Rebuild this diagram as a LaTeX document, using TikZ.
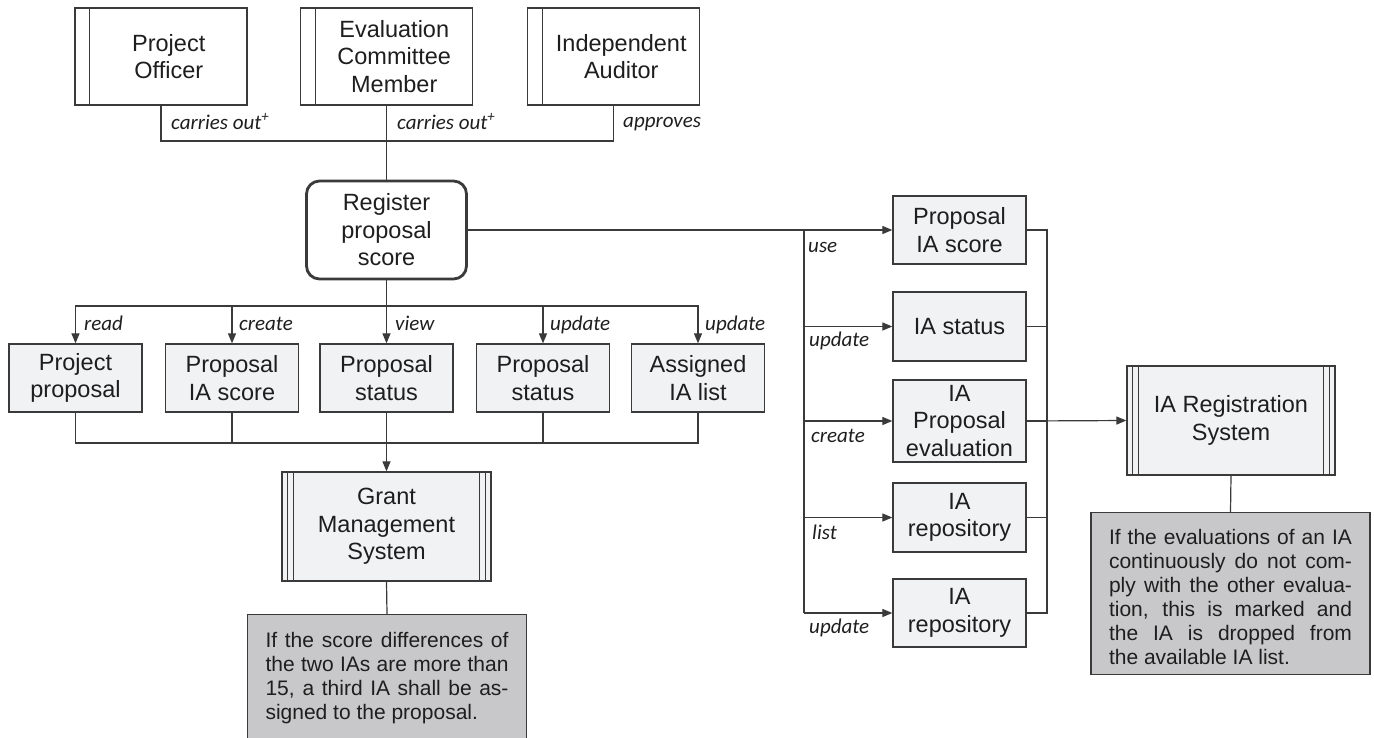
\documentclass[tikz,border=0pt]{standalone}
\usepackage{fontspec}
\setmainfont{Liberation Sans}
\newfontfamily\labfont{Carlito}
\usetikzlibrary{arrows.meta}
\definecolor{boxfill}{RGB}{241,242,244}
\definecolor{notefill}{RGB}{200,200,202}
\definecolor{ln}{RGB}{58,58,58}
\definecolor{txt}{RGB}{30,30,30}
\begin{document}
\begin{tikzpicture}[x=1pt,y=-1pt,
  every node/.style={text=txt},
  base/.style={draw=ln, line width=1.3pt, fill=boxfill, inner sep=0pt, font=\fontsize{23.5}{27.5}\selectfont},
  actor/.style={base, fill=white, minimum width=172, minimum height=97},
  store/.style={base, align=center, minimum width=133, minimum height=68},
  proc/.style={base, align=center, fill=white, rounded corners=13, line width=2.8pt, minimum width=160, minimum height=98},
  system/.style={base, align=center, minimum width=209, minimum height=109},
  note/.style={draw=ln, line width=1.3pt, fill=notefill, inner xsep=18pt, inner ysep=0pt, font=\fontsize{21}{24}\selectfont},
  lab/.style={font=\labfont\itshape\fontsize{21}{24}\selectfont, inner sep=0pt, anchor=base west},
  conn/.style={draw=ln, line width=1.2pt},
  barline/.style={draw=ln, line width=1.1pt},
  arr/.style={conn, -{Triangle[length=10pt,width=8pt]}},
]
\clip (0,0) rectangle (1374,737);
\useasboundingbox (0,0) rectangle (1374,737);

% actors
\node[actor] (po) at (161,56.5) {\hspace*{15.5pt}\parbox{140pt}{\centering Project\\Officer}};
\node[actor] (ecm) at (386.5,56.5) {\hspace*{15.5pt}\parbox{140pt}{\centering Evaluation\\Committee\\Member}};
\node[actor] (aud) at (613.5,56.5) {\hspace*{15.5pt}\parbox{140pt}{\centering Independent\\Auditor}};
\foreach \n in {po,ecm,aud}
  \draw[barline] ([xshift=15.5pt]\n.north west) -- ([xshift=15.5pt]\n.south west);

% process
\node[proc] (reg) at (386.5,230) {Register\\proposal\\score};

% left data
\node[store] (pp) at (75.5,378) {Project\\proposal};
\node[store] (pis2) at (232,378) {Proposal\\IA score};
\node[store] (ps1) at (386.5,378) {Proposal\\status};
\node[store] (ps2) at (543,378) {Proposal\\status};
\node[store] (ail) at (698,378) {Assigned\\IA list};

% systems
\node[system] (gms) at (386.5,526.5) {Grant\\Management\\System};
\node[system, minimum width=208] (iars) at (1231,420.5) {IA Registration\\System};
\foreach \n in {gms,iars}
  \foreach \d in {6,12} {
    \draw[barline] ([xshift=\d pt]\n.north west) -- ([xshift=\d pt]\n.south west);
    \draw[barline] ([xshift=-\d pt]\n.north east) -- ([xshift=-\d pt]\n.south east);
  }

% right data
\node[store] (pis) at (959.5,230) {Proposal\\IA score};
\node[store, minimum height=69] (ias) at (959.5,326.5) {IA status};
\node[store, minimum height=82] (iape) at (959.5,421) {IA\\Proposal\\evaluation};
\node[store, minimum height=69] (iar1) at (959.5,517.5) {IA\\repository};
\node[store] (iar2) at (959.5,613) {IA\\repository};

% notes
\node[note, anchor=north] (note1) at (387,614) {\parbox[c][150pt][t]{243pt}{\vspace*{17.5pt}%
\makebox[243pt][s]{If the score differences of}\\
\makebox[243pt][s]{the two IAs are more than}\\
\makebox[243pt][s]{15, a third IA shall be as-}\\
signed to the proposal.}};
\node[note, anchor=north] (note2) at (1230.5,512) {\parbox[c][162pt][t]{243pt}{\vspace*{16.5pt}%
\makebox[243pt][s]{If the evaluations of an IA}\\
\makebox[243pt][s]{continuously do not com-}\\
\makebox[243pt][s]{ply with the other evalua-}\\
\makebox[243pt][s]{tion, this is marked and}\\
\makebox[243pt][s]{the IA is dropped from}\\
the available IA list.}};

% connectors top
\coordinate (tb) at (386.5,141);
\draw[conn] (po.south) |- (tb) -| (aud.south);
\draw[conn] (ecm.south) -- (reg.north);

% connectors left
\coordinate (lb) at (386.5,306);
\draw[conn] (reg.south) -- (lb);
\foreach \n in {pp,pis2,ps1,ps2,ail}
  \draw[arr] (lb) -| (\n.north);
\coordinate (bb) at (386.5,443);
\foreach \n in {pp,pis2,ps2,ail}
  \draw[conn] (\n.south) |- (bb);
\draw[arr] (ps1.south) -- (gms.north);
\draw[conn] (gms.south) -- (note1.north);

% connectors right
\draw[arr] (reg.east) -- (pis.west);
\coordinate (rbt) at (804,230);
\coordinate (rbb) at (804,613);
\draw[conn] (rbt) -- (rbb);
\foreach \n in {ias,iape,iar1,iar2}
  \draw[arr] (rbt |- \n.west) -- (\n.west);
\coordinate (rrt) at (1047,230);
\coordinate (rrb) at (1047,613);
\draw[conn] (pis.east) -- (rrt) -- (rrb) -- (iar2.east);
\foreach \n in {ias,iape,iar1}
  \draw[conn] (\n.east) -- (\n.east -| rrt);
\draw[arr] (iape.east) -- (iars.west);
\draw[conn] (iars.south) -- (note2.north);

% labels
\node[lab] (lco1) at (171,129) {carries out\textsuperscript{+}};
\node[lab] (lco2) at (397,129) {carries out\textsuperscript{+}};
\node[lab] (lapp) at (623,127) {approves};
\node[lab] (lread) at (84,330) {read};
\node[lab] (lcre) at (239,330) {create};
\node[lab] (lview) at (395,330) {view};
\node[lab] (lupd1) at (550,330) {update};
\node[lab] (lupd2) at (705,330) {update};
\node[lab] (luse) at (808,252) {use};
\node[lab] (lupd3) at (809,346) {update};
\node[lab] (lcre2) at (811,442) {create};
\node[lab] (llist) at (812,539) {list};
\node[lab] (lupd4) at (809,633) {update};
\end{tikzpicture}
\end{document}
